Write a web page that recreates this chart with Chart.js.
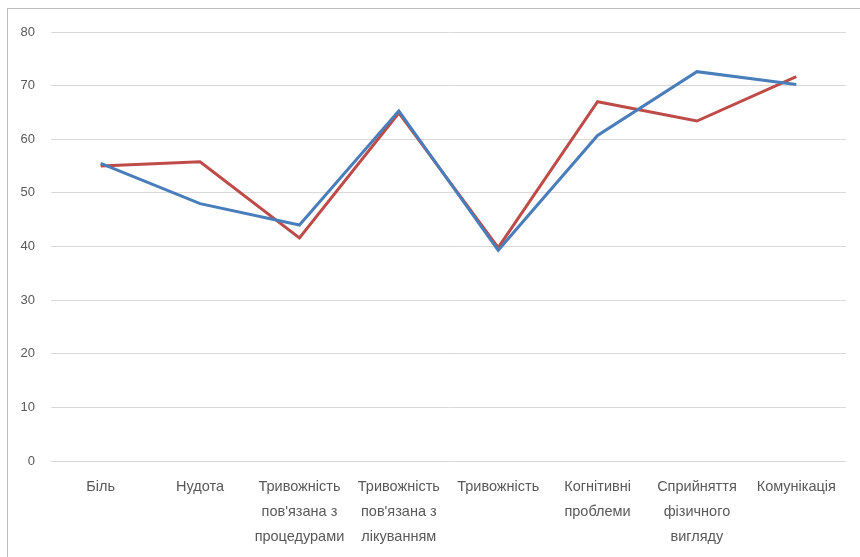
<!DOCTYPE html>
<html>
<head>
<meta charset="utf-8">
<script src="https://cdn.jsdelivr.net/npm/chart.js@4/dist/chart.umd.min.js"></script>
<style>
  html, body { margin: 0; padding: 0; background: #fff; overflow: hidden; }
  #frame { position: absolute; left: 7px; top: 8px; width: 900px; height: 600px;
           border-left: 1px solid #bfbfbf; border-top: 1px solid #bfbfbf; }
  #wrap { position: absolute; left: 0; top: 0; width: 860px; height: 557px; }
</style>
</head>
<body>
<div id="frame"></div>
<div id="wrap"><canvas id="c" width="860" height="557"></canvas></div>
<script>
const categories = [
  "Біль",
  "Нудота",
  ["Тривожність", "пов'язана з", "процедурами"],
  ["Тривожність", "пов'язана з", "лікуванням"],
  "Тривожність",
  ["Когнітивні", "проблеми"],
  ["Сприйняття", "фізичного", "вигляду"],
  "Комунікація"
];
const seriesBlue = [55.5, 48.0, 44.0, 65.3, 39.3, 60.7, 72.6, 70.2];
const seriesRed  = [55.0, 55.8, 41.6, 64.9, 39.8, 67.0, 63.4, 71.7];
const yTicks = [0, 10, 20, 30, 40, 50, 60, 70, 80];

const fontFamily = "'Liberation Sans', 'DejaVu Sans', sans-serif";

new Chart(document.getElementById('c'), {
  type: 'line',
  data: {
    labels: categories,
    datasets: [
      { data: seriesBlue, borderColor: '#4a7ebb', borderWidth: 3, pointRadius: 0, tension: 0, fill: false },
      { data: seriesRed,  borderColor: '#be4b48', borderWidth: 3, pointRadius: 0, tension: 0, fill: false }
    ]
  },
  options: {
    responsive: false,
    animation: false,
    events: [],
    layout: { padding: { top: 32, right: 14, left: 0, bottom: 0 } },
    plugins: { legend: { display: false }, tooltip: { enabled: false } },
    scales: {
      x: {
        offset: true,
        grid: { display: false, drawTicks: false },
        border: { display: false },
        ticks: { color: '#595959', font: { family: fontFamily, size: 14.5, lineHeight: 1.72 },
                 padding: 14, maxRotation: 0, autoSkip: false },
        afterFit: (s) => { s.height = 96; }
      },
      y: {
        min: 0, max: 80,
        afterBuildTicks: (s) => { s.ticks = yTicks.map(v => ({ value: v })); },
        grid: { color: '#d9d9d9', lineWidth: 1, drawTicks: false },
        border: { display: false },
        ticks: { color: '#595959', font: { family: fontFamily, size: 13 }, padding: 16 },
        afterFit: (s) => { s.width = 51; }
      }
    }
  }
});
</script>
</body>
</html>
